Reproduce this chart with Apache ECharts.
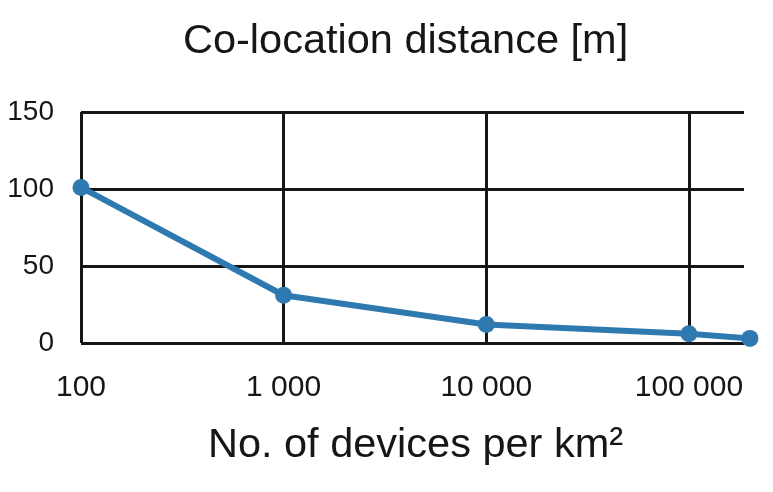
<!DOCTYPE html>
<html>
<head>
<meta charset="utf-8">
<script src="https://cdn.jsdelivr.net/npm/echarts@6/dist/echarts.min.js"></script>
<style>html,body{margin:0;padding:0;background:#fff;}#c{width:773px;height:492px;}</style>
</head>
<body>
<div id="c"></div>
<script>
const devicesPerKm2 = [100, 1000, 10000, 100000, 200000];
const colocationDistance = [101, 31, 12, 6, 3];
const yTicks = [0, 50, 100, 150];
const xTickLabels = {100: '100', 1000: '1 000', 10000: '10 000', 100000: '100 000'};

const chart = echarts.init(document.getElementById('c'), null, {renderer: 'canvas'});
const font = '"Liberation Sans", Arial, sans-serif';
const ink = '#161616';
chart.setOption({
  animation: false,
  backgroundColor: '#ffffff',
  title: {
    text: 'Co-location distance [m]',
    left: 183, top: 21, padding: 0,
    textStyle: {fontFamily: font, fontSize: 41.5, fontWeight: 'normal', color: ink}
  },
  grid: {left: 81, right: 29, top: 112, bottom: 149, containLabel: false},
  xAxis: {
    type: 'log', logBase: 10, min: 100, max: 187000,
    name: 'No. of devices per km²', nameLocation: 'middle', nameGap: 82,
    nameTextStyle: {fontFamily: font, fontSize: 41.5, color: ink, padding: [0, 0, 0, 6]},
    axisLine: {show: false}, axisTick: {show: false},
    axisLabel: {
      fontFamily: font, fontSize: 30, color: ink, margin: 30,
      showMaxLabel: false,
      formatter: v => xTickLabels[Math.round(v)] || ''
    },
    splitLine: {show: true, lineStyle: {color: [ink, ink, ink, ink, 'rgba(0,0,0,0)'], width: 3}}
  },
  yAxis: {
    type: 'value', min: yTicks[0], max: yTicks[yTicks.length - 1], interval: 50,
    axisLine: {show: false}, axisTick: {show: false},
    axisLabel: {fontFamily: font, fontSize: 28, color: ink, margin: 27},
    splitLine: {show: true, lineStyle: {color: ink, width: 3}}
  },
  series: [{
    type: 'line',
    clip: false,
    data: devicesPerKm2.map((x, i) => [x, colocationDistance[i]]),
    symbol: 'circle', symbolSize: 17,
    lineStyle: {color: '#2e7ab0', width: 6},
    itemStyle: {color: '#2e7ab0'}
  }]
});
</script>
</body>
</html>
